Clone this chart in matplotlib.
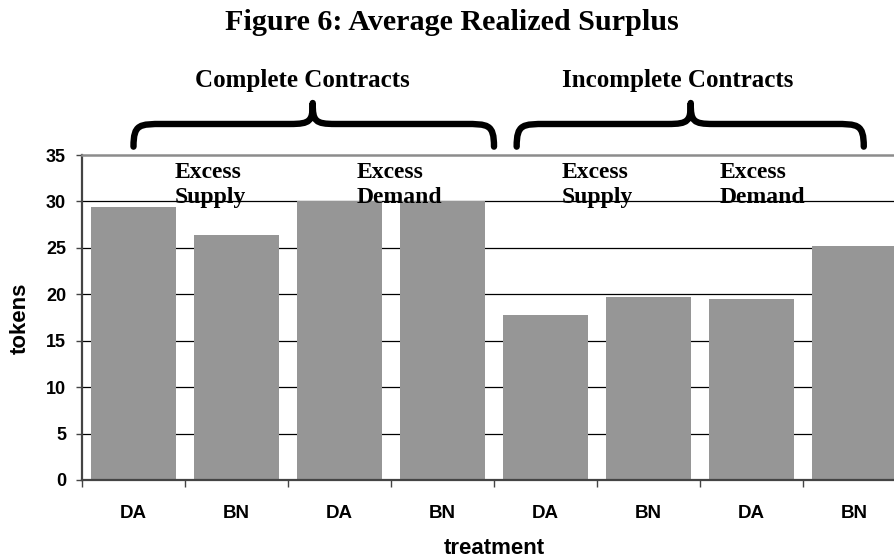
import matplotlib
matplotlib.use("Agg")
import matplotlib.pyplot as plt
from matplotlib.path import Path
from matplotlib.patches import PathPatch
import numpy as np

categories = ["DA", "BN", "DA", "BN", "DA", "BN", "DA", "BN"]
surplus = [29.4, 26.4, 30.0, 30.0, 17.8, 19.7, 19.5, 25.2]
yticks = [0, 5, 10, 15, 20, 25, 30, 35]
group_labels = ["Complete Contracts", "Incomplete Contracts"]
sub_labels = ["Excess\nSupply", "Excess\nDemand", "Excess\nSupply", "Excess\nDemand"]

SERIF = "Liberation Serif"
SANS = "Liberation Sans"

fig = plt.figure(figsize=(8.94, 5.6), dpi=100)
W, H = 894, 560
ax = fig.add_axes([82 / W, 1 - 480 / H, 824 / W, 325 / H])

x = np.arange(len(categories))
ax.bar(x, surplus, width=0.83, color="#969696", zorder=2)

ax.set_xlim(-0.5, len(categories) - 0.5)
ax.set_ylim(0, 35)
ax.set_yticks(yticks)
ax.set_yticklabels([str(t) for t in yticks], fontfamily=SANS, fontweight="bold", fontsize=13)
for t in yticks[1:-1]:
    ax.axhline(t, color="black", lw=0.9, zorder=1)

ax.set_xticks(x)
ax.set_xticklabels(categories, fontfamily=SANS, fontweight="bold", fontsize=13.5)
ax.tick_params(axis="x", which="major", length=0, pad=18)
ax.set_xticks(np.arange(-0.5, len(categories), 1), minor=True)
ax.tick_params(axis="x", which="minor", length=5, color="#444444", width=1)
ax.tick_params(axis="y", length=4.5, color="#444444", width=1, pad=7)

for s in ["left", "bottom"]:
    ax.spines[s].set_color("#444444")
    ax.spines[s].set_linewidth(1.6)
ax.spines["top"].set_color("#8c8c8c")
ax.spines["top"].set_linewidth(1.8)
ax.spines["right"].set_visible(False)

ax.set_ylabel("tokens", fontfamily=SANS, fontweight="bold", fontsize=16, labelpad=10)
ax.set_xlabel("treatment", fontfamily=SANS, fontweight="bold", fontsize=16, labelpad=12)
ax.xaxis.set_label_coords((494 - 82) / 824, -(549 - 480) / 325)
ax.yaxis.set_label_coords(-(82 - 20) / 824, (480 - 318) / 325)
ax.xaxis.label.set_va("center")
ax.yaxis.label.set_va("center")

# sub labels
sub_x = [0.403, 2.17, 4.16, 5.69]
for sx, lab in zip(sub_x, sub_labels):
    ax.text(sx, (480 - 162) / 9.286, lab, ha="left", va="top", fontfamily=SERIF, fontweight="bold",
            fontsize=17, linespacing=1.25, zorder=3)

# braces
def brace(x0, xm, x1, yb=35.9, yh=38.34, yp=40.6, r=0.29, r2=0.22):
    verts = [
        (x0, yb),
        (x0, yh), (x0 + r * 0.2, yh), (x0 + r, yh),
        (xm - r2, yh),
        (xm - r2 * 0.1, yh), (xm, yh + 0.3), (xm, yp),
        (xm, yh + 0.3), (xm + r2 * 0.1, yh), (xm + r2, yh),
        (x1 - r, yh),
        (x1 - r * 0.2, yh), (x1, yh), (x1, yb),
    ]
    codes = [Path.MOVETO,
             Path.CURVE4, Path.CURVE4, Path.CURVE4,
             Path.LINETO,
             Path.CURVE4, Path.CURVE4, Path.CURVE4,
             Path.CURVE4, Path.CURVE4, Path.CURVE4,
             Path.LINETO,
             Path.CURVE4, Path.CURVE4, Path.CURVE4]
    p = PathPatch(Path(verts, codes), fill=False, lw=4.6, color="black",
                  capstyle="round", joinstyle="round", clip_on=False, zorder=4)
    ax.add_patch(p)

brace(0.0, 1.74, 3.5)
brace(3.72, 5.41, 7.09)

fig.text(302 / W, 1 - 81 / H, group_labels[0], ha="center", va="center",
         fontfamily=SERIF, fontweight="bold", fontsize=18)
fig.text(678 / W, 1 - 81 / H, group_labels[1], ha="center", va="center",
         fontfamily=SERIF, fontweight="bold", fontsize=18)
fig.text(452 / W, 1 - 23 / H, "Figure 6: Average Realized Surplus", ha="center", va="center",
         fontfamily=SERIF, fontweight="bold", fontsize=21.7)

fig.savefig("out.png", dpi=100)
